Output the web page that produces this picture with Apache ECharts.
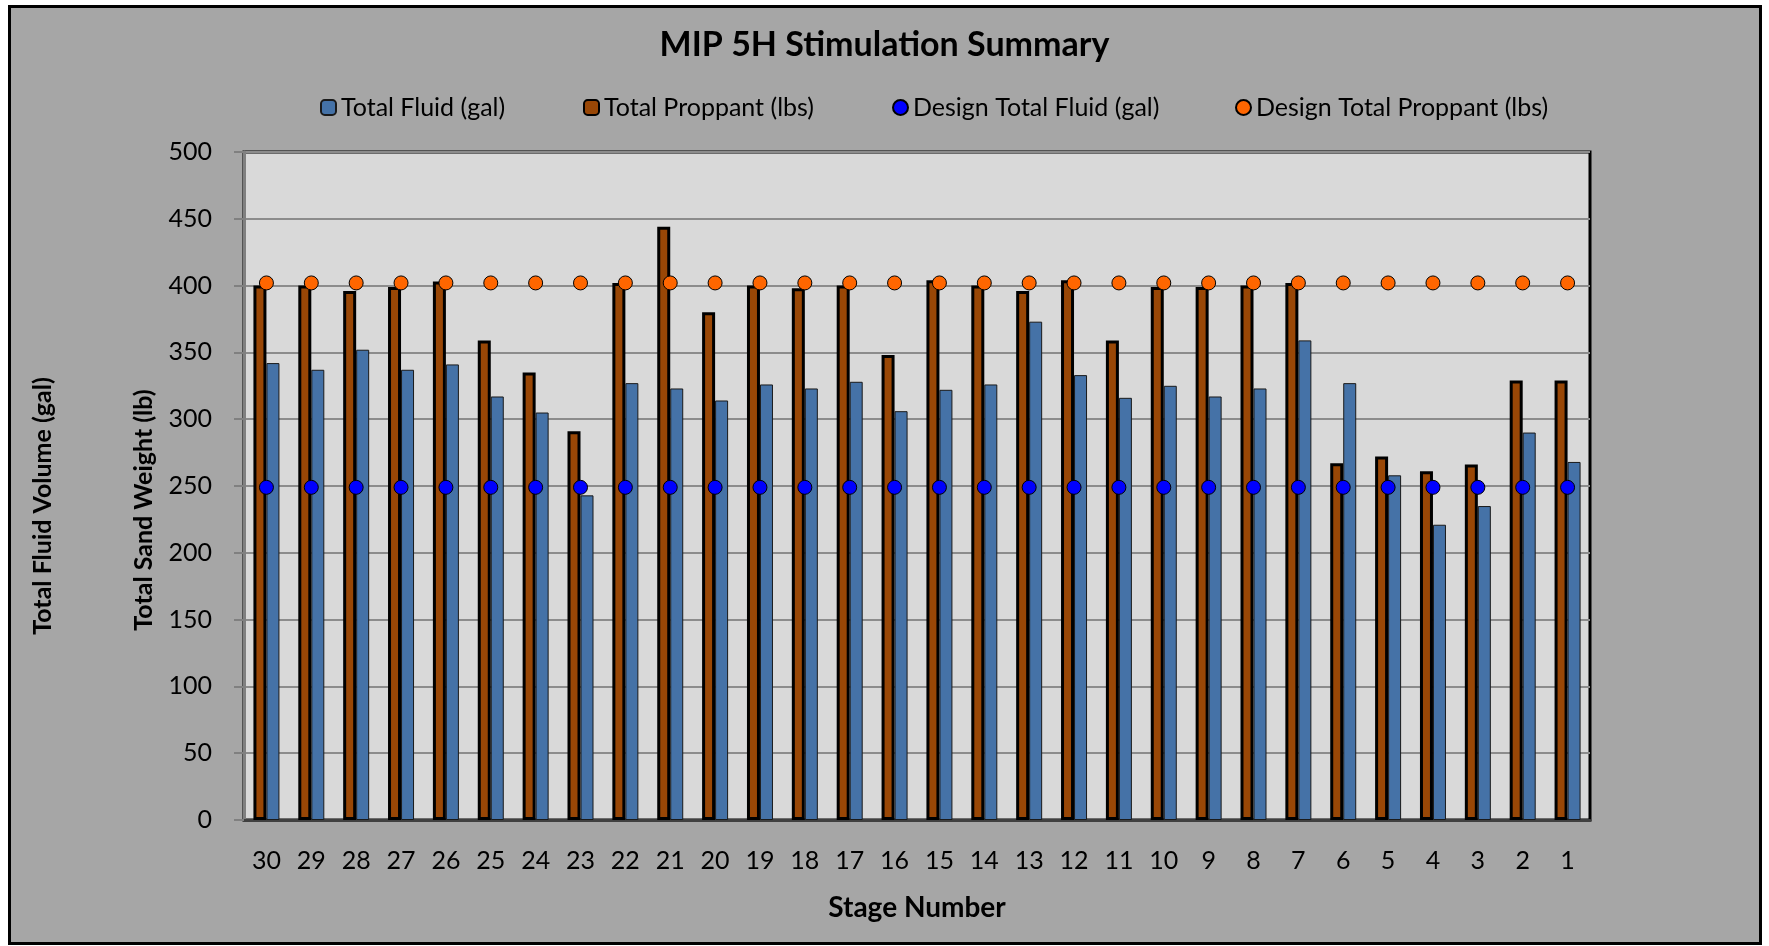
<!DOCTYPE html>
<html>
<head>
<meta charset="utf-8">
<title>MIP 5H Stimulation Summary</title>
<script src="https://cdn.jsdelivr.net/npm/echarts@6/dist/echarts.min.js"></script>
<style>
  html, body { margin: 0; padding: 0; background: #ffffff; }
  .frame {
    position: absolute; left: 8px; top: 5px; width: 1754px; height: 940px;
    box-sizing: border-box; border: 3px solid #000; background: #a6a6a6;
  }
  .com-chart { position: absolute; left: 0; top: 0; width: 1769px; height: 946px; }
</style>
</head>
<body>
<div class="frame"></div>
<div class="com-chart" id="chart"></div>
<script>
const stages = ["30", "29", "28", "27", "26", "25", "24", "23", "22", "21", "20", "19", "18", "17", "16",
  "15", "14", "13", "12", "11", "10", "9", "8", "7", "6", "5", "4", "3", "2", "1"];

const totalProppant = [400, 400, 396, 399, 403, 359, 335, 291, 402, 444, 380, 400, 398, 400, 348,
  404, 400, 396, 404, 359, 399, 399, 400, 402, 267, 272, 261, 266, 329, 329];

const totalFluid = [342, 337, 352, 337, 341, 317, 305, 243, 327, 323, 314, 326, 323, 328, 306,
  322, 326, 373, 333, 316, 325, 317, 323, 359, 327, 258, 221, 235, 290, 268];

const designFluid = [249, 249, 249, 249, 249, 249, 249, 249, 249, 249, 249, 249, 249, 249, 249,
  249, 249, 249, 249, 249, 249, 249, 249, 249, 249, 249, 249, 249, 249, 249];

const designProppant = [402, 402, 402, 402, 402, 402, 402, 402, 402, 402, 402, 402, 402, 402, 402,
  402, 402, 402, 402, 402, 402, 402, 402, 402, 402, 402, 402, 402, 402, 402];

const yTicks = { min: 0, max: 500, interval: 50 };

const font = "Lato, 'Open Sans', sans-serif";

const chartInstance = echarts.init(document.getElementById("chart"));

const legendText = { fontFamily: font, fontSize: 25, color: "#000" };

const option = {
  backgroundColor: "transparent",
  animation: false,
  title: {
    text: "MIP 5H Stimulation Summary",
    left: "center",
    top: 23,
    textStyle: { fontFamily: font, fontSize: 34, fontWeight: "bold", color: "#000" },
  },
  legend: [
    { data: ["Total Fluid (gal)"], left: 315, top: 90, itemWidth: 15, itemHeight: 15, textStyle: legendText },
    { data: ["Total Proppant (lbs)"], left: 578, top: 90, itemWidth: 15, itemHeight: 15, textStyle: legendText },
    { data: ["Design Total Fluid (gal)"], left: 887, top: 90, itemWidth: 15, itemHeight: 15, textStyle: legendText },
    { data: ["Design Total Proppant (lbs)"], left: 1230, top: 90, itemWidth: 15, itemHeight: 15, textStyle: legendText },
  ],
  grid: {
    left: 244,
    right: 179,
    top: 152,
    bottom: 126,
    show: true,
    backgroundColor: "#d9d9d9",
    borderColor: "#000",
    borderWidth: 3,
  },
  xAxis: {
    type: "category",
    data: stages,
    name: "Stage Number",
    nameLocation: "middle",
    nameGap: 74,
    nameTextStyle: { fontFamily: font, fontSize: 28, fontWeight: "bold", color: "#000" },
    axisLine: { show: true, lineStyle: { color: "#404040", width: 3 } },
    axisTick: { show: false },
    axisLabel: { fontFamily: font, fontSize: 25, color: "#000", margin: 28 },
  },
  yAxis: {
    type: "value",
    min: yTicks.min,
    max: yTicks.max,
    interval: yTicks.interval,
    axisLine: { show: true, lineStyle: { color: "#808080", width: 3 } },
    axisTick: { show: true, length: 10, lineStyle: { color: "#808080", width: 2 } },
    axisLabel: { fontFamily: font, fontSize: 25, color: "#000", margin: 32 },
    splitLine: { show: true, lineStyle: { color: "#8c8c8c", width: 2 } },
  },
  graphic: [
    {
      type: "text",
      x: 144,
      y: 510,
      rotation: Math.PI / 2,
      style: {
        text: "Total Sand Weight (lb)",
        font: "bold 25px " + font,
        fill: "#000",
        align: "center",
        verticalAlign: "middle",
      },
    },
    {
      type: "text",
      x: 43,
      y: 506,
      rotation: Math.PI / 2,
      style: {
        text: "Total Fluid Volume (gal)",
        font: "bold 25px " + font,
        fill: "#000",
        align: "center",
        verticalAlign: "middle",
      },
    },
  ],
  series: [
    {
      name: "Total Proppant (lbs)",
      type: "bar",
      data: totalProppant,
      barWidth: 13,
      barGap: "0%",
      itemStyle: { color: "#994706", borderColor: "#000", borderWidth: 3 },
      z: 2,
    },
    {
      name: "Total Fluid (gal)",
      type: "bar",
      data: totalFluid,
      barWidth: 13,
      barGap: "0%",
      itemStyle: { color: "#4572a7", borderColor: "#1a1a1a", borderWidth: 1 },
      z: 2,
    },
    {
      name: "Design Total Fluid (gal)",
      type: "scatter",
      data: designFluid,
      symbol: "circle",
      symbolSize: 14,
      itemStyle: { color: "#0000ff", borderColor: "#000", borderWidth: 1, opacity: 1 },
      z: 5,
    },
    {
      name: "Design Total Proppant (lbs)",
      type: "scatter",
      data: designProppant,
      symbol: "circle",
      symbolSize: 14,
      itemStyle: { color: "#ff6600", borderColor: "#000", borderWidth: 1, opacity: 1 },
      z: 5,
    },
  ],
};

chartInstance.setOption(option);
</script>
</body>
</html>
